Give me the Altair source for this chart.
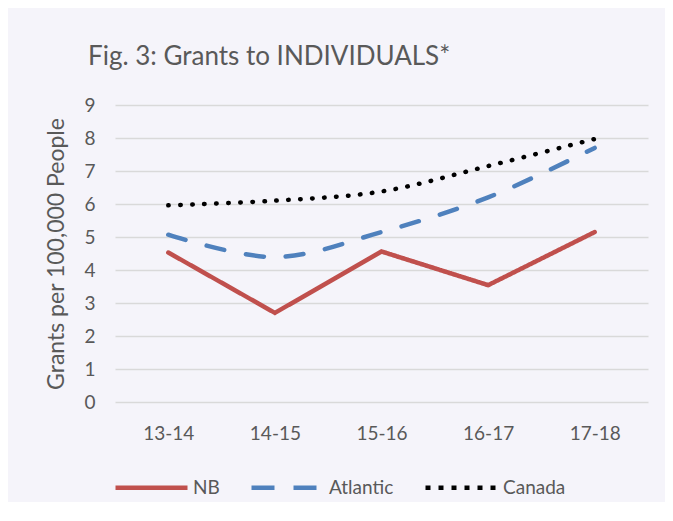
import altair as alt
import pandas as pd

years = ["13-14", "14-15", "15-16", "16-17", "17-18"]
nb = [4.53, 2.70, 4.56, 3.54, 5.15]
atlantic = [5.07, 4.39, 5.15, 6.20, 7.70]
canada = [5.96, 6.10, 6.38, 7.15, 7.97]

series = ["NB", "Atlantic", "Canada"]
colors = ["#C0504D", "#4F81BD", "#000000"]
line_dashes = [[1, 0], [18, 22], [0.5, 11.5]]
legend_dashes = [[1, 0], [23, 19], [5, 8]]

rows = []
for name, vals in zip(series, [nb, atlantic, canada]):
    for y, v in zip(years, vals):
        rows.append({"Year": y, "Series": name, "Value": v})
df = pd.DataFrame(rows)

FONT = "Lato"
GRAY = "#595959"

legend = alt.Legend(
    title=None,
    orient="none",
    legendX=-2,
    legendY=344,
    direction="horizontal",
    symbolType="stroke",
    symbolSize=5184,
    symbolStrokeWidth=4.5,
    labelFontSize=19,
    labelFont=FONT,
    labelColor=GRAY,
    labelOffset=3,
    columnPadding=22,
    padding=0,
)

x = alt.X("Year:N", sort=years, title=None,
          axis=alt.Axis(labelAngle=0, labelFontSize=19, labelFont=FONT,
                        labelColor=GRAY, ticks=False, domain=False,
                        labelPadding=22, grid=False))
y = alt.Y("Value:Q", title="Grants per 100,000 People",
          scale=alt.Scale(domain=[0, 9], nice=False),
          axis=alt.Axis(values=list(range(10)), labelFontSize=19, labelFont=FONT,
                        labelColor=GRAY, ticks=False, domain=False,
                        labelPadding=20, gridColor="#D9D9D9", gridWidth=1.5,
                        titleFontSize=23, titleFont=FONT, titleColor=GRAY,
                        titleFontWeight="normal", titlePadding=15))

base = alt.Chart(df).encode(x=x, y=y)

layers = []
for name, col, dsh in zip(series, colors, line_dashes):
    kw = dict(strokeWidth=4.5, strokeCap="round", color=col, strokeDash=dsh)
    if name != "NB":
        kw["interpolate"] = "catmull-rom"
    else:
        kw["strokeJoin"] = "miter"
    layers.append(base.transform_filter(alt.datum.Series == name).mark_line(**kw))

# legend carrier layer (no visible data)
legend_layer = base.transform_filter("false").mark_line(strokeWidth=4.5).encode(
    color=alt.Color("Series:N", sort=series,
                    scale=alt.Scale(domain=series, range=colors), legend=legend),
    strokeDash=alt.StrokeDash("Series:N", sort=series,
                              scale=alt.Scale(domain=series, range=legend_dashes),
                              legend=legend),
)
layers.append(legend_layer)

chart = alt.layer(*layers).properties(
    width=533, height=297,
    title=alt.TitleParams("Fig. 3: Grants to INDIVIDUALS*", anchor="start",
                          frame="group", dx=-27, offset=5,
                          baseline="alphabetic", fontSize=26, font=FONT,
                          fontWeight="normal", color=GRAY),
    autosize=alt.AutoSizeParams(type="none"),
    padding={"left": 107, "top": 97, "right": 17, "bottom": 100},
    background="#F5F4FA",
).configure_view(stroke=None)

chart.save("out.html", embed_options={"renderer": "svg", "actions": False})
